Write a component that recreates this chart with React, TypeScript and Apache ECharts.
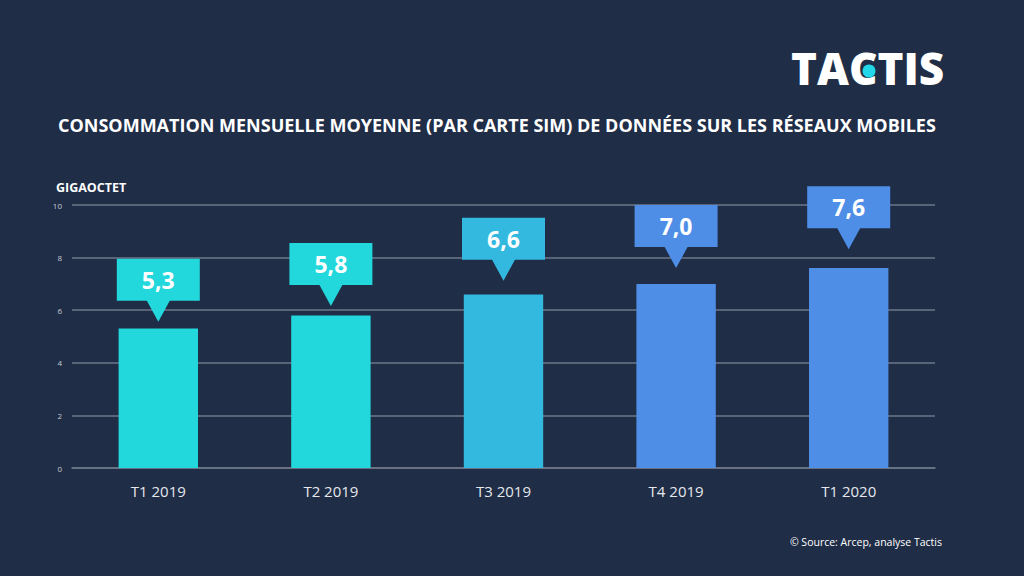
import React, { useEffect, useRef } from "react";
import * as echarts from "echarts";

const categories = ["T1 2019", "T2 2019", "T3 2019", "T4 2019", "T1 2020"];
const values = [5.3, 5.8, 6.6, 7.0, 7.6];
const valueLabels = ["5,3", "5,8", "6,6", "7,0", "7,6"];
const barColors = ["#22D8DC", "#22D8DC", "#33B9E0", "#4E8EE6", "#4E8EE6"];

const BG = "#1F2D47";
const FONT = "'Open Sans', 'Noto Sans', sans-serif";

export default function App() {
  const ref = useRef<HTMLDivElement>(null);
  useEffect(() => {
    document.body.style.margin = "0";
    const chart = echarts.init(ref.current!, null, { renderer: "svg" });
    chart.setOption({
      animation: false,
      backgroundColor: BG,
      grid: { left: 72, right: 89, top: 205, bottom: 108 },
      xAxis: {
        type: "category",
        data: categories,
        axisLine: { show: true, lineStyle: { color: "#6E7789", width: 1.5 } },
        axisTick: { show: false },
        axisLabel: { color: "#E6E8EC", fontSize: 15, fontFamily: FONT, margin: 15 },
      },
      yAxis: {
        type: "value",
        min: 0,
        max: 10,
        interval: 2,
        axisLine: { show: false },
        axisTick: { show: false },
        axisLabel: { color: "#C8CCD4", fontSize: 8, fontFamily: FONT, margin: 10 },
        splitLine: { lineStyle: { color: "#6E7789", width: 1.5 } },
      },
      graphic: [
        {
          type: "text",
          left: 58,
          top: 116,
          style: {
            text: "CONSOMMATION MENSUELLE MOYENNE (PAR CARTE SIM) DE DONNÉES SUR LES RÉSEAUX MOBILES",
            fill: "#FFFFFF",
            font: `bold 18px ${FONT}`,
          },
        },
        {
          type: "text",
          left: 56,
          top: 181,
          style: { text: "GIGAOCTET", fill: "#FFFFFF", font: `bold 12.5px ${FONT}` },
        },
        {
          type: "text",
          right: 82,
          top: 536,
          style: { text: "© Source: Arcep, analyse Tactis", fill: "#FFFFFF", font: `10.5px ${FONT}` },
        },
        {
          type: "text",
          left: 791,
          top: 46,
          style: { text: "TACTIS", fill: "#FFFFFF", font: `800 44px ${FONT}` },
        },
        {
          type: "circle",
          shape: { cx: 869, cy: 71, r: 6.5 },
          style: { fill: "#22D8E8" },
          z: 100,
        },
      ],
      series: [
        {
          type: "bar",
          data: values.map((v, i) => ({ value: v, itemStyle: { color: barColors[i] } })),
          barWidth: "46%",
        },
        {
          type: "custom",
          data: values.map((v, i) => [i, v]),
          z: 10,
          renderItem: (params: any, api: any) => {
            const i = api.value(0);
            const v = api.value(1);
            const p = api.coord([i, v * 1.2]);
            const w = 83;
            const h = 42;
            const tip = 21;
            const color = barColors[i];
            return {
              type: "group",
              children: [
                {
                  type: "rect",
                  shape: { x: p[0] - w / 2, y: p[1] - h, width: w, height: h },
                  style: { fill: color },
                },
                {
                  type: "polygon",
                  shape: {
                    points: [
                      [p[0] - 12, p[1] - 1],
                      [p[0] + 12, p[1] - 1],
                      [p[0], p[1] + tip],
                    ],
                  },
                  style: { fill: color },
                },
                {
                  type: "text",
                  style: {
                    text: valueLabels[i],
                    x: p[0],
                    y: p[1] - h / 2,
                    align: "center",
                    verticalAlign: "middle",
                    fill: "#FFFFFF",
                    font: `bold 23px ${FONT}`,
                  },
                },
              ],
            };
          },
        },
      ],
    });
    return () => chart.dispose();
  }, []);
  return <div ref={ref} style={{ width: 1024, height: 576 }} />;
}
